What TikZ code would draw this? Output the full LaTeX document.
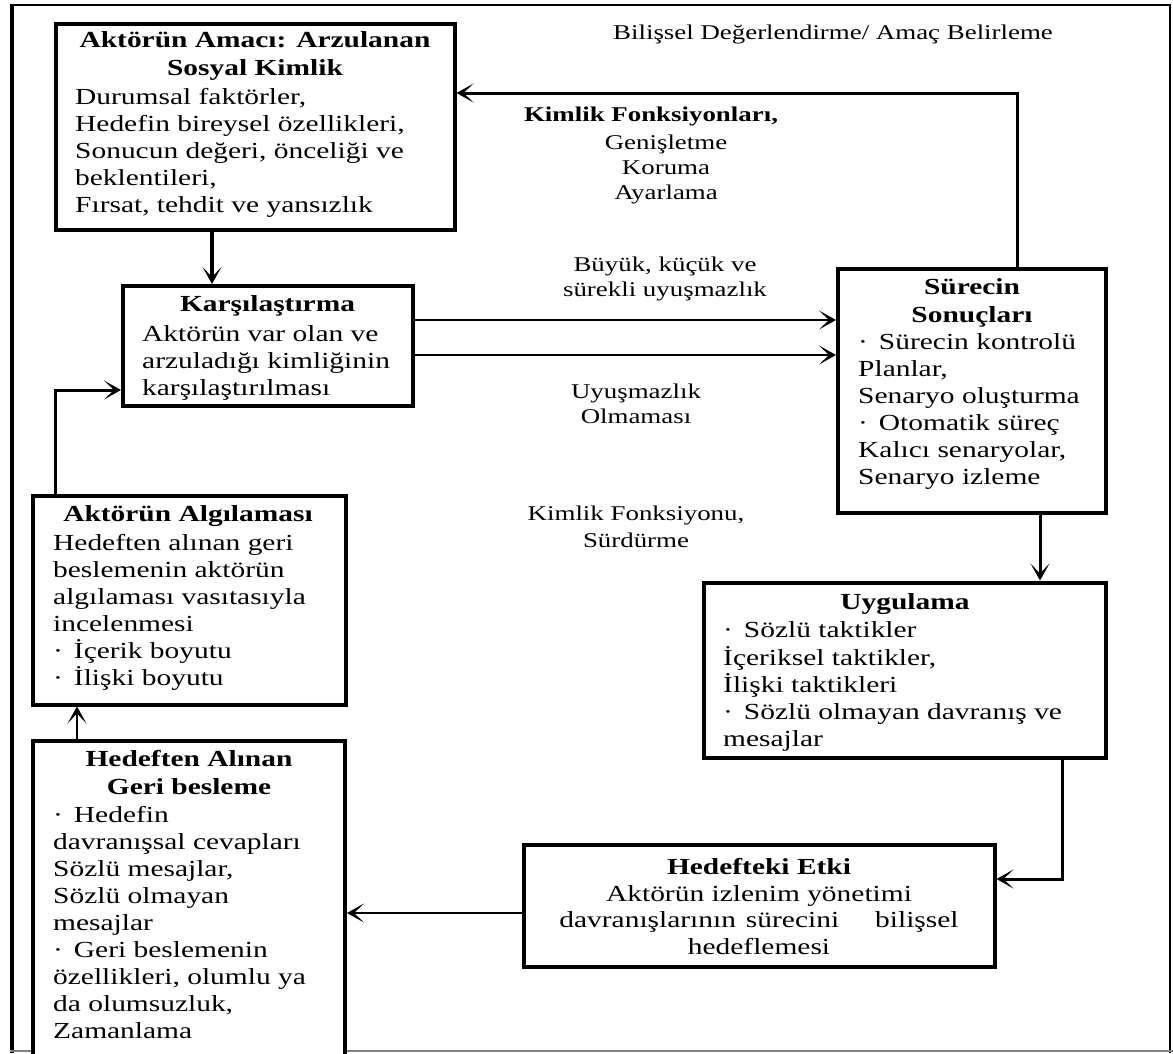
\documentclass[tikz,border=0pt]{standalone}
\usepackage{fontspec}
\setmainfont{Liberation Serif}[FakeStretch=1.28]
\usetikzlibrary{arrows.meta}
\newcommand\mdot{·\hspace{11pt}}

\begin{document}
\begin{tikzpicture}[x=1pt,y=-1pt,
  box/.style={draw, line width=4pt, inner sep=0pt, outer sep=2pt, fill=white},
  ttl/.style={font=\bfseries\fontsize{23}{28}\selectfont, align=center, anchor=north, inner sep=0pt},
  body/.style={font=\fontsize{23}{27}\selectfont, align=left, anchor=north west, inner sep=0pt},
  ctext/.style={font=\fontsize{23}{26.5}\selectfont, align=center, anchor=north, inner sep=0pt},
  lbl/.style={font=\fontsize{21}{25}\selectfont, align=center, anchor=north, inner sep=0pt},
  conn/.style={line width=3pt, -{Stealth[length=17pt,width=19pt,inset=10pt]}},
]
\useasboundingbox (0,0) rectangle (1173,1053);
\fill[white] (0,0) rectangle (1173,1053);
\clip (0,0) rectangle (1173,1053);

% outer frame
\draw[line width=4pt] (12,4) -- (12,1053);
\draw[line width=2.5pt] (10,5) -- (1170,5) -- (1170,1053);
\draw[line width=2pt, gray] (10,1051) -- (1173,1051);

% boxes
\node[box, minimum width=399pt, minimum height=206pt] (b1) at (255,126.5) {};
\node[box, minimum width=289.5pt, minimum height=119.5pt] (b2) at (267.75,345.75) {};
\node[box, minimum width=268pt, minimum height=244pt] (b3) at (972,390.5) {};
\node[box, minimum width=402pt, minimum height=175.5pt] (b4) at (905,670.25) {};
\node[box, minimum width=470.5pt, minimum height=122pt] (b5) at (759.25,906) {};
\node[box, minimum width=312pt, minimum height=334pt] (b6) at (189,908) {};
\node[box, minimum width=313pt, minimum height=209pt] (b7) at (189,600) {};

% box texts
\node[ttl] (t1) at (255,31) {Aktörün Amacı: Arzulanan\\Sosyal Kimlik};
\node[body] (t1b) at (75,85) {\strut Durumsal faktörler,\\Hedefin bireysel özellikleri,\\Sonucun değeri, önceliği ve\\beklentileri,\\Fırsat, tehdit ve yansızlık};

\node[ttl] (t2) at (267.5,295) {Karşılaştırma};
\node[body] (t2b) at (142,322) {\strut Aktörün var olan ve\\arzuladığı kimliğinin\\karşılaştırılması};

\node[ttl] (t3) at (972,278) {Sürecin\\Sonuçları};
\node[body] (t3b) at (858,330) {\strut\mdot Sürecin kontrolü\\Planlar,\\Senaryo oluşturma\\\mdot Otomatik süreç\\Kalıcı senaryolar,\\Senaryo izleme};

\node[ttl] (t4) at (905,593) {Uygulama};
\node[body] (t4b) at (723,618) {\strut\mdot Sözlü taktikler\\İçeriksel taktikler,\\İlişki taktikleri\\\mdot Sözlü olmayan davranış ve\\mesajlar};

\node[ctext] (t5) at (759,856) {\strut\textbf{Hedefteki Etki}\\Aktörün izlenim yönetimi\\davranışlarının\hspace{10pt}sürecini\hspace{36pt}bilişsel\\hedeflemesi};

\node[ttl] (t6) at (189,750) {Hedeften Alınan\\Geri besleme};
\node[body] (t6b) at (53,803) {\strut\mdot Hedefin\\davranışsal cevapları\\Sözlü mesajlar,\\Sözlü olmayan\\mesajlar\\\mdot Geri beslemenin\\özellikleri, olumlu ya\\da olumsuzluk,\\Zamanlama};

\node[ttl] (t7) at (188,505) {Aktörün Algılaması};
\node[body] (t7b) at (53,531) {\strut Hedeften alınan geri\\beslemenin aktörün\\algılaması vasıtasıyla\\incelenmesi\\\mdot İçerik boyutu\\\mdot İlişki boyutu};

% free labels
\node[lbl] (l0) at (833,21.5) {\strut Bilişsel Değerlendirme/ Amaç Belirleme};
\node[lbl, font=\bfseries\fontsize{21}{25}\selectfont] (l1) at (651,103.5) {\strut Kimlik Fonksiyonları,};
\node[lbl] (l2) at (666,131.5) {\strut Genişletme\\Koruma\\Ayarlama};
\node[lbl] (l3) at (665,253.5) {\strut Büyük, küçük ve\\sürekli uyuşmazlık};
\node[lbl] (l4) at (636,380.5) {\strut Uyuşmazlık\\Olmaması};
\node[lbl, font=\fontsize{21}{27}\selectfont] (l5) at (636,501.5) {\strut Kimlik Fonksiyonu,\\Sürdürme};

% connectors
\draw[conn, line width=3.5pt] (212,0 |- b1.south) -- (212,0 |- b2.north);
\draw[conn, line width=2.5pt] (b2.east |- 0,320) -- (b3.west |- 0,320);
\draw[conn, line width=2.5pt] (b2.east |- 0,355) -- (b3.west |- 0,355);
\coordinate (c1) at (1017,93);
\draw[conn] (1017,0 |- b3.north) -- (c1) -- (b1.east |- c1);
\draw[conn] (1040,0 |- b3.south) -- (1040,0 |- b4.north);
\coordinate (c2) at (1062,879);
\draw[conn] (1062,0 |- b4.south) -- (c2) -- (b5.east |- c2);
\draw[conn, line width=2pt] (b5.west |- 0,913) -- (b6.east |- 0,913);
\draw[conn, line width=2.5pt] (77,0 |- b6.north) -- (77,0 |- b7.south);
\coordinate (c3) at (55,390);
\draw[conn] (55,0 |- b7.north) -- (c3) -- (b2.west |- c3);
\end{tikzpicture}
\end{document}
